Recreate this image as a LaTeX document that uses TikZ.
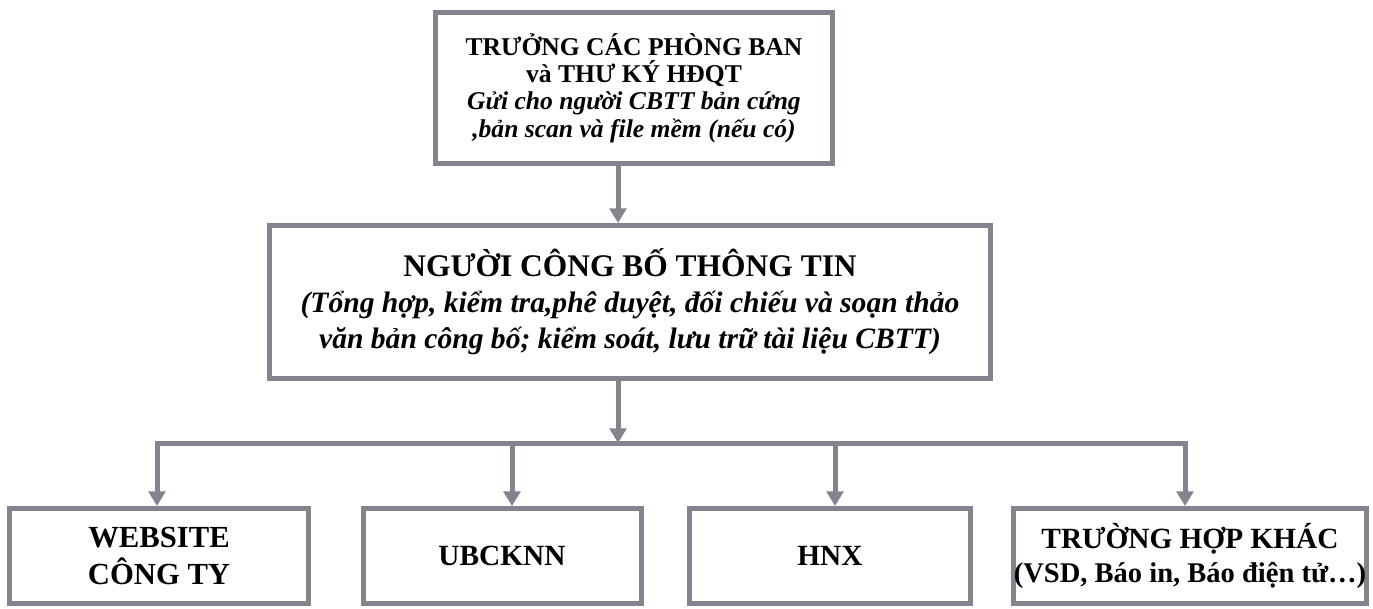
\documentclass[tikz,border=0pt]{standalone}
\usepackage{fontspec}
\setmainfont{Liberation Serif}
\usetikzlibrary{arrows.meta}
\definecolor{linegray}{RGB}{132,132,142}
\tikzset{
  box/.style={draw=linegray, line width=3.75pt, fill=white, align=center, inner sep=0pt},
  conn/.style={draw=linegray, line width=3.75pt, line join=miter},
  arr/.style={conn, -{Triangle[width=12.5pt,length=11pt]}},
}
\begin{document}
\begin{tikzpicture}[x=0.75pt,y=-0.75pt]
\useasboundingbox[fill=white] (0,0) rectangle (1373,608);
% nodes
\node[box, minimum width=297.75pt, minimum height=113.25pt,
  font=\bfseries\fontsize{19.2pt}{20.5pt}\selectfont] (top) at (634,88)
  {TRƯỞNG CÁC PHÒNG BAN\\ và THƯ KÝ HĐQT\\ \textit{Gửi cho người CBTT bản cứng}\\ \textit{,bản scan và file mềm (nếu có)}};
\node[box, minimum width=540.75pt, minimum height=114.75pt,
  font=\bfseries\fontsize{22.2pt}{27pt}\selectfont] (mid) at (630,302)
  {{\fontsize{23.6pt}{27pt}\selectfont NGƯỜI CÔNG BỐ THÔNG TIN}\\
   \textit{(Tổng hợp, kiểm tra,phê duyệt, đối chiếu và soạn thảo}\\
   \textit{văn bản công bố; kiểm soát, lưu trữ tài liệu CBTT)}};
\node[box, minimum width=224.25pt, minimum height=71.25pt,
  font=\bfseries\fontsize{23pt}{27.75pt}\selectfont] (b1) at (159,556)
  {WEBSITE\\ CÔNG TY};
\node[box, minimum width=208.5pt, minimum height=71.25pt,
  font=\bfseries\fontsize{22pt}{27.75pt}\selectfont] (b2) at (502,556)
  {UBCKNN};
\node[box, minimum width=210.75pt, minimum height=71.25pt,
  font=\bfseries\fontsize{22pt}{27.75pt}\selectfont] (b3) at (830,556)
  {HNX};
\node[box, minimum width=261.75pt, minimum height=71.25pt,
  font=\bfseries\fontsize{22pt}{25.5pt}\selectfont] (b4) at (1190,556)
  {TRƯỜNG HỢP KHÁC\\ {\fontsize{21.4pt}{25.5pt}\selectfont (VSD, Báo in, Báo điện tử…)}};
% connectors
\coordinate (a0) at (618,0);
\coordinate (bus) at (618,443);
\coordinate (x1) at (157,443);
\coordinate (x2) at (512,443);
\coordinate (x3) at (835,443);
\coordinate (x4) at (1185,443);
\draw[arr] (top.south -| a0) -- (mid.north -| a0);
\draw[arr] (mid.south -| bus) -- (bus);
\draw[arr] (x2) -- (x1) -- (b1.north -| x1);
\draw[arr] (x3) -- (x4) -- (b4.north -| x4);
\draw[conn] (x2) -- (x3);
\draw[arr] (x2) -- (b2.north -| x2);
\draw[arr] (x3) -- (b3.north -| x3);
\end{tikzpicture}
\end{document}
